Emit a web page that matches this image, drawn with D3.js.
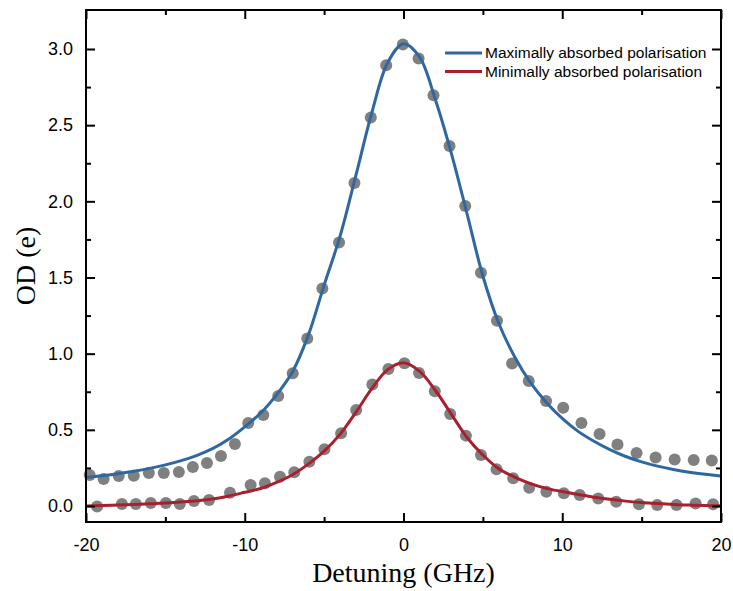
<!DOCTYPE html>
<html>
<head>
<meta charset="utf-8">
<script src="https://cdn.jsdelivr.net/npm/d3@7/dist/d3.min.js"></script>
<style>
body { margin: 0; background: #fff; }
.tick text { font-family: "Liberation Sans", Arial, sans-serif; font-size: 18px; fill: #000; }
.axis line, .axis path { stroke: #000; stroke-width: 2; }
</style>
</head>
<body>
<svg width="733" height="591"></svg>
<script>
// measured points (gray dots)
var maxDetuning = [-19.77, -18.89, -17.94, -16.99, -16.04, -15.10, -14.15, -13.27, -12.38, -11.50, -10.62, -9.78, -8.83, -7.89, -6.98, -6.06, -5.11, -4.06, -3.09, -2.06, -1.09, -0.04, 0.95, 1.89, 2.90, 3.89, 4.88, 5.89, 6.84, 7.89, 8.98, 10.06, 11.21, 12.35, 13.48, 14.68, 15.88, 17.08, 18.28, 19.42];
var maxOD = [0.203, 0.177, 0.197, 0.199, 0.217, 0.217, 0.223, 0.256, 0.282, 0.328, 0.407, 0.545, 0.597, 0.722, 0.871, 1.100, 1.428, 1.730, 2.121, 2.550, 2.894, 3.030, 2.938, 2.697, 2.364, 1.969, 1.531, 1.216, 0.936, 0.820, 0.689, 0.645, 0.545, 0.472, 0.404, 0.348, 0.318, 0.305, 0.302, 0.299];

var minDetuning = [-19.30, -17.74, -16.86, -15.92, -14.97, -14.09, -13.20, -12.25, -10.93, -9.63, -8.73, -7.78, -6.88, -5.93, -4.98, -3.93, -2.98, -1.96, -0.95, 0.06, 0.98, 1.97, 2.94, 3.93, 4.88, 5.86, 6.91, 7.92, 9.00, 10.10, 11.10, 12.27, 13.40, 14.83, 15.98, 17.20, 18.40, 19.50];
var minOD = [-0.004, 0.013, 0.013, 0.020, 0.020, 0.013, 0.033, 0.040, 0.087, 0.138, 0.149, 0.192, 0.221, 0.290, 0.372, 0.477, 0.630, 0.798, 0.899, 0.937, 0.873, 0.753, 0.604, 0.462, 0.335, 0.242, 0.182, 0.120, 0.094, 0.083, 0.072, 0.050, 0.028, 0.011, 0.007, 0.007, 0.017, 0.011];

// fitted curves
var fitDetuning = [-20, -19, -18, -17, -16, -15, -14, -13, -12, -11, -10, -9, -8, -7, -6, -5, -4, -3, -2, -1, 0, 1, 2, 3, 4, 5, 6, 7, 8, 9, 10, 11, 12, 13, 14, 15, 16, 17, 18, 19, 20];
var maxFit = [0.188, 0.199, 0.212, 0.228, 0.247, 0.270, 0.298, 0.333, 0.378, 0.440, 0.520, 0.610, 0.730, 0.880, 1.120, 1.450, 1.770, 2.170, 2.580, 2.910, 3.035, 2.950, 2.670, 2.320, 1.920, 1.510, 1.200, 0.980, 0.810, 0.680, 0.575, 0.490, 0.425, 0.370, 0.325, 0.290, 0.262, 0.240, 0.222, 0.208, 0.197];
var minFit = [0.000, 0.003, 0.006, 0.010, 0.014, 0.020, 0.027, 0.035, 0.046, 0.066, 0.090, 0.115, 0.155, 0.205, 0.275, 0.360, 0.470, 0.615, 0.770, 0.895, 0.940, 0.885, 0.760, 0.605, 0.450, 0.335, 0.245, 0.190, 0.147, 0.116, 0.095, 0.075, 0.058, 0.044, 0.032, 0.023, 0.016, 0.010, 0.006, 0.003, 0.001];

var xTicks = [-20, -10, 0, 10, 20];
var xMinor = [-15, -5, 5, 15];
var yTicks = [0, 0.5, 1.0, 1.5, 2.0, 2.5, 3.0];
var yMinor = [0.25, 0.75, 1.25, 1.75, 2.25, 2.75];

var seriesNames = ["Maximally absorbed polarisation", "Minimally absorbed polarisation"];
var seriesColors = ["#2f67a1", "#aa1f2e"];

var svg = d3.select("svg"),
    margin = {top: 10, right: 12, bottom: 69, left: 86},
    width = svg.attr("width") - margin.left - margin.right,
    height = svg.attr("height") - margin.top - margin.bottom;

var g = svg.append("g")
    .attr("transform", "translate(" + margin.left + "," + margin.top + ")");

var x = d3.scaleLinear().domain([-20, 20]).range([0, width]);
var y = d3.scaleLinear().domain([-0.105, 3.256]).range([height, 0]);

// dots first, curves on top
function dots(xs, ys) {
    g.append("g").selectAll("circle")
        .data(xs.map(function (d, i) { return [d, ys[i]]; }))
        .enter()
        .append("circle")
        .attr("cx", function (d) { return x(d[0]); })
        .attr("cy", function (d) { return y(d[1]); })
        .attr("r", 6)
        .attr("fill", "#808080");
}
dots(maxDetuning, maxOD);
dots(minDetuning, minOD);

var line = d3.line()
    .x(function (d) { return x(d[0]); })
    .y(function (d) { return y(d[1]); })
    .curve(d3.curveCatmullRom);

[maxFit, minFit].forEach(function (fit, k) {
    g.append("path")
        .datum(fitDetuning.map(function (d, i) { return [d, fit[i]]; }))
        .attr("d", line)
        .attr("fill", "none")
        .attr("stroke", seriesColors[k])
        .attr("stroke-width", 3);
});

// axes, ticks pointing inwards on all four sides
function axis(gen, tr, vals, size, fmt, pad) {
    var a = g.append("g").attr("class", "axis")
        .attr("transform", tr)
        .call(gen.tickValues(vals).tickSize(-size).tickPadding(pad).tickFormat(fmt));
    a.select(".domain").remove();
    return a;
}
var none = function () { return ""; };
axis(d3.axisBottom(x), "translate(0," + height + ")", xTicks, 9, function (d) { return String(d); }, 16);
axis(d3.axisBottom(x), "translate(0," + height + ")", xMinor, 5, none, 0);
axis(d3.axisTop(x), "translate(0,0)", xTicks, 9, none, 0);
axis(d3.axisTop(x), "translate(0,0)", xMinor, 5, none, 0);
axis(d3.axisLeft(y), "translate(0,0)", yTicks, 9, function (d) { return d.toFixed(1); }, 13);
axis(d3.axisLeft(y), "translate(0,0)", yMinor, 5, none, 0);
axis(d3.axisRight(y), "translate(" + width + ",0)", yTicks, 9, none, 0);
axis(d3.axisRight(y), "translate(" + width + ",0)", yMinor, 5, none, 0);

g.append("rect")
    .attr("width", width).attr("height", height)
    .attr("fill", "none").attr("stroke", "#000").attr("stroke-width", 2);

// axis titles
svg.append("text")
    .attr("x", margin.left + x(0)).attr("y", 582)
    .attr("text-anchor", "middle")
    .style("font-family", "'Liberation Serif', 'Times New Roman', serif")
    .style("font-size", "28px")
    .text("Detuning (GHz)");

svg.append("text")
    .attr("transform", "translate(35,266) rotate(-90)")
    .attr("text-anchor", "middle")
    .style("font-family", "'Liberation Serif', 'Times New Roman', serif")
    .style("font-size", "28px")
    .text("OD (e)");

// legend
var legend = svg.append("g").attr("transform", "translate(445,53)");
seriesNames.forEach(function (name, i) {
    var row = legend.append("g").attr("transform", "translate(0," + i * 18.5 + ")");
    row.append("line")
        .attr("x1", 0).attr("x2", 37)
        .attr("stroke", seriesColors[i]).attr("stroke-width", 3);
    row.append("text")
        .attr("x", 40).attr("y", 5)
        .style("font-family", "'Liberation Sans', Arial, sans-serif")
        .style("font-size", "15.5px")
        .text(name);
});
</script>
</body>
</html>
